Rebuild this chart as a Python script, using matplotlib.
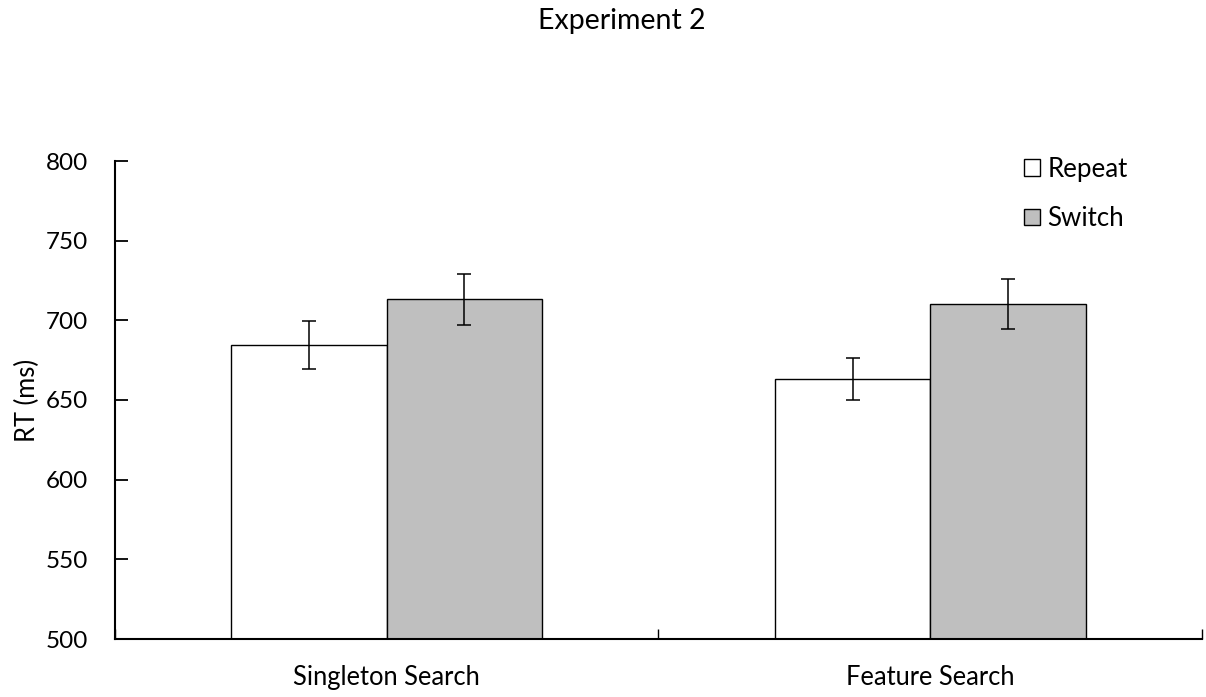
import numpy as np
import matplotlib
matplotlib.use("Agg")
import matplotlib.pyplot as plt
from matplotlib.patches import Patch

plt.rcParams["font.family"] = ["Lato", "DejaVu Sans"]

# data
categories = ["Singleton Search", "Feature Search"]
conditions = ["Repeat", "Switch"]
repeat_rt = [684.5, 663.0]
switch_rt = [713.2, 710.1]
repeat_err = [14.8, 13.3]
switch_err = [16.1, 15.7]
y_ticks = [500, 550, 600, 650, 700, 750, 800]

BAR_COLORS = {"Repeat": "#FFFFFF", "Switch": "#BFBFBF"}

fig = plt.figure(figsize=(12.06, 6.97), dpi=100)
ax = fig.add_axes([115 / 1206, 1 - 639 / 697, (1202 - 115) / 1206, (639 - 161) / 697])

x = np.arange(len(categories))
width = 0.286
err_kw = dict(ecolor="black", elinewidth=1.1, capsize=5, capthick=1.1)

ax.bar(x - width / 2, repeat_rt, width, yerr=repeat_err, color=BAR_COLORS["Repeat"],
       edgecolor="black", linewidth=1.0, error_kw=err_kw, zorder=2)
ax.bar(x + width / 2, switch_rt, width, yerr=switch_err, color=BAR_COLORS["Switch"],
       edgecolor="black", linewidth=1.0, error_kw=err_kw, zorder=2)

ax.set_xlim(-0.5, len(categories) - 0.5)
ax.set_ylim(y_ticks[0], y_ticks[-1])
ax.set_yticks(y_ticks)
ax.set_yticklabels([str(t) for t in y_ticks], fontsize=17.5)
ax.set_xticks(x)
ax.set_xticklabels(categories, fontsize=18.4)
ax.tick_params(axis="x", length=0, pad=19)
ax.set_xticks(np.arange(len(categories) + 1) - 0.5, minor=True)
ax.tick_params(axis="x", which="minor", direction="in", length=7, width=1.0)
ax.tick_params(axis="y", direction="in", length=9, width=1.3, pad=19.5)

for side in ["top", "right"]:
    ax.spines[side].set_visible(False)
ax.spines["left"].set_linewidth(1.5)
ax.spines["bottom"].set_linewidth(1.5)

ax.set_ylabel("RT (ms)", fontsize=18.4, labelpad=4)

fig.text(0.516, 1 - 21 / 697, "Experiment 2", ha="center", va="center", fontsize=20.5)

handles = [Patch(facecolor=BAR_COLORS[c], edgecolor="black", linewidth=1.0, label=c)
           for c in conditions]
leg = fig.legend(handles=handles, loc="upper left", bbox_to_anchor=(1011 / 1206, 1 - 144 / 697),
                 frameon=False, fontsize=18.6, handlelength=0.62, handleheight=0.62,
                 handletextpad=0.28, labelspacing=0.94, borderpad=0)

fig.savefig("out.png", dpi=100)
